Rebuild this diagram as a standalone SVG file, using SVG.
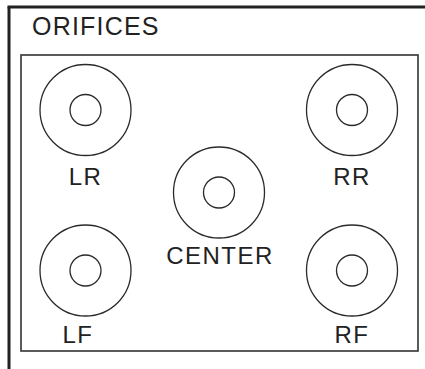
<svg xmlns="http://www.w3.org/2000/svg" width="425" height="369" viewBox="0 0 425 369">
<style>
.ring{fill:none;stroke:#2a2a2a;stroke-width:1.3}
.lbl{font-family:"Liberation Sans",Arial,sans-serif;font-size:24px;fill:#222;text-anchor:middle;letter-spacing:1.5px}
</style>
<rect width="425" height="369" fill="#fff"/>
<g id="frame">
<line x1="9" y1="369" x2="9" y2="7" stroke="#222" stroke-width="3"/>
<line x1="7.5" y1="7" x2="425" y2="7" stroke="#222" stroke-width="3"/>
<text x="32" y="35" style="font-family:'Liberation Sans',Arial,sans-serif;font-size:25px;fill:#222;letter-spacing:1.2px">ORIFICES</text>
<rect x="21" y="55" width="397" height="296" fill="none" stroke="#333" stroke-width="1.6"/>
</g>
<g id="LR">
<circle class="ring" cx="85.5" cy="110" r="45.5"/>
<circle class="ring" cx="85.5" cy="110" r="15.5"/>
<text class="lbl" x="85.5" y="185">LR</text>
</g>
<g id="RR">
<circle class="ring" cx="352" cy="110" r="45.5"/>
<circle class="ring" cx="352" cy="110" r="15.5"/>
<text class="lbl" x="352" y="185">RR</text>
</g>
<g id="CENTER">
<circle class="ring" cx="219" cy="192.5" r="45.5"/>
<circle class="ring" cx="219" cy="192.5" r="15.5"/>
<text class="lbl" x="220" y="264">CENTER</text>
</g>
<g id="LF">
<circle class="ring" cx="85.5" cy="270.5" r="45.5"/>
<circle class="ring" cx="85.5" cy="270.5" r="15.5"/>
<text class="lbl" x="78" y="343">LF</text>
</g>
<g id="RF">
<circle class="ring" cx="352" cy="270.5" r="45.5"/>
<circle class="ring" cx="352" cy="270.5" r="15.5"/>
<text class="lbl" x="352" y="343">RF</text>
</g>
</svg>
